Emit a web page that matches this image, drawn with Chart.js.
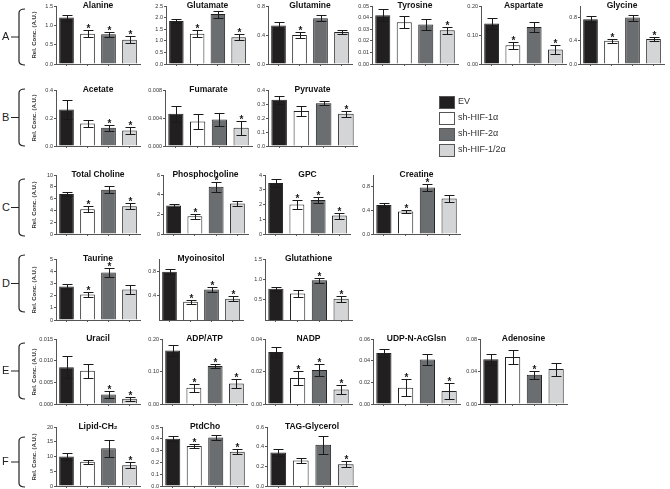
<!DOCTYPE html>
<html>
<head>
<meta charset="utf-8">
<script src="https://cdn.jsdelivr.net/npm/chart.js@4.4.1/dist/chart.umd.min.js"></script>
<style>
body { margin: 0; background: #fff; width: 670px; height: 489px; overflow: hidden; position: relative; font-family: Arial, "Liberation Sans", sans-serif; }
canvas { position: absolute; }
.ylab { position: absolute; width: 80px; height: 8px; line-height: 8px; text-align: center; font: bold 6px Arial, "Liberation Sans", sans-serif; color: #333; transform: rotate(-90deg); white-space: nowrap; }
.row { position: absolute; font: 11px Arial, "Liberation Sans", sans-serif; color: #222; }
.leg { position: absolute; left: 439px; font: 9px Arial, "Liberation Sans", sans-serif; color: #333; }
.leg span { position: absolute; left: 0; top: 0; width: 14px; height: 11px; border: 1px solid #555; }
.leg b { position: absolute; left: 19px; top: 0; font-weight: normal; white-space: nowrap; }
svg { position: absolute; left: 0; top: 0; }
</style>
</head>
<body>
<svg id="brackets" width="670" height="489"></svg>
<script>
// groups and metabolites
const groups = ['EV', 'sh-HIF-1α', 'sh-HIF-2α', 'sh-HIF-1/2α'];
const groupColors = ['#221f20', '#ffffff', '#6b6e70', '#d3d5d7'];
const rowLetters = ['A', 'B', 'C', 'D', 'E', 'F'];

const metabolites = ['Alanine', 'Glutamate', 'Glutamine', 'Tyrosine', 'Aspartate', 'Glycine',
    'Acetate', 'Fumarate', 'Pyruvate',
    'Total Choline', 'Phosphocholine', 'GPC', 'Creatine',
    'Taurine', 'Myoinositol', 'Glutathione',
    'Uracil', 'ADP/ATP', 'NADP', 'UDP-N-AcGlsn', 'Adenosine',
    'Lipid-CH₂', 'PtdCho', 'TAG-Glycerol'];

// mean values (EV, HIF-1a, HIF-2a, HIF-1/2a)
const means = [
    [1.20, 0.78, 0.77, 0.63],
    [1.85, 1.30, 2.15, 1.15],
    [0.53, 0.40, 0.63, 0.44],
    [0.042, 0.036, 0.034, 0.029],
    [0.140, 0.065, 0.128, 0.050],
    [0.77, 0.40, 0.80, 0.43],
    [0.26, 0.16, 0.13, 0.11],
    [0.0046, 0.0035, 0.0038, 0.0026],
    [0.33, 0.25, 0.305, 0.23],
    [6.8, 4.2, 7.5, 4.7],
    [2.9, 1.8, 4.8, 3.1],
    [3.45, 2.0, 2.3, 1.25],
    [0.49, 0.38, 0.79, 0.60],
    [2.75, 2.1, 3.9, 2.5],
    [0.79, 0.30, 0.50, 0.35],
    [0.77, 0.65, 0.98, 0.52],
    [0.0085, 0.0077, 0.0022, 0.0012],
    [0.165, 0.050, 0.117, 0.063],
    [0.032, 0.016, 0.021, 0.009],
    [0.047, 0.015, 0.041, 0.012],
    [0.055, 0.058, 0.036, 0.043],
    [10.0, 8.2, 12.8, 7.0],
    [0.40, 0.34, 0.41, 0.29],
    [0.34, 0.26, 0.42, 0.22]
];

// standard errors
const errors = [
    [0.08, 0.09, 0.06, 0.09],
    [0.08, 0.15, 0.15, 0.13],
    [0.05, 0.04, 0.04, 0.03],
    [0.005, 0.005, 0.005, 0.003],
    [0.018, 0.012, 0.018, 0.016],
    [0.05, 0.03, 0.05, 0.04],
    [0.07, 0.025, 0.02, 0.025],
    [0.0011, 0.0011, 0.0009, 0.001],
    [0.03, 0.035, 0.015, 0.02],
    [0.4, 0.5, 0.6, 0.5],
    [0.2, 0.25, 0.5, 0.3],
    [0.25, 0.3, 0.2, 0.2],
    [0.04, 0.03, 0.06, 0.06],
    [0.2, 0.2, 0.35, 0.35],
    [0.04, 0.03, 0.04, 0.04],
    [0.05, 0.09, 0.06, 0.07],
    [0.0025, 0.0016, 0.0009, 0.0005],
    [0.018, 0.012, 0.006, 0.013],
    [0.003, 0.0045, 0.0035, 0.003],
    [0.004, 0.008, 0.005, 0.007],
    [0.007, 0.009, 0.005, 0.008],
    [1.2, 0.7, 2.8, 1.0],
    [0.02, 0.015, 0.02, 0.02],
    [0.04, 0.025, 0.09, 0.03]
];

// significance markers
const starred = [
    [0, 1, 1, 1], [0, 1, 0, 1], [0, 1, 0, 0], [0, 0, 0, 1], [0, 1, 0, 1], [0, 1, 0, 1],
    [0, 0, 1, 1], [0, 0, 0, 1], [0, 0, 0, 1],
    [0, 1, 0, 1], [0, 1, 1, 0], [0, 1, 1, 1], [0, 1, 1, 0],
    [0, 1, 1, 0], [0, 1, 1, 1], [0, 0, 1, 1],
    [0, 0, 1, 1], [0, 1, 1, 1], [0, 1, 1, 1], [0, 1, 0, 1], [0, 0, 1, 0],
    [0, 0, 0, 1], [0, 1, 0, 1], [0, 0, 0, 1]
];

// y tick labels
const yTickLabels = [
    ['0.0', '0.5', '1.0', '1.5'],
    ['0.0', '0.5', '1.0', '1.5', '2.0', '2.5'],
    ['0.0', '0.4', '0.8'],
    ['0.00', '0.01', '0.02', '0.03', '0.04', '0.05'],
    ['0.00', '0.10', '0.20'],
    ['0.0', '0.4', '0.8'],
    ['0.0', '0.2', '0.4'],
    ['0.000', '0.004', '0.008'],
    ['0.0', '0.1', '0.2', '0.3', '0.4'],
    ['0', '2', '4', '6', '8', '10'],
    ['0', '2', '4', '6'],
    ['0', '1', '2', '3', '4'],
    ['0.0', '0.4', '0.8'],
    ['0', '1', '2', '3', '4', '5'],
    ['0.4', '0.8'],
    ['0.5', '1.0', '1.5'],
    ['0.000', '0.005', '0.010', '0.015'],
    ['0.00', '0.10', '0.20'],
    ['0.00', '0.02', '0.04'],
    ['0.00', '0.02', '0.04', '0.06'],
    ['0.00', '0.04', '0.08'],
    ['0', '5', '10', '15', '20'],
    ['0.0', '0.1', '0.2', '0.3', '0.4', '0.5'],
    ['0.0', '0.2', '0.4', '0.6']
];
const yMax = [1.5, 2.5, 0.8, 0.05, 0.2, 1.0, 0.4, 0.008, 0.4, 10, 6, 4, 1.0, 5, 1.0, 1.5,
    0.015, 0.2, 0.04, 0.06, 0.08, 20, 0.5, 0.6];

// layout: which row, plot top / zero line per row, plot left / right per panel
const rowOf = [0, 0, 0, 0, 0, 0, 1, 1, 1, 2, 2, 2, 2, 3, 3, 3, 4, 4, 4, 4, 4, 5, 5, 5];
const rowTop = [6, 90, 175, 259, 339, 427];
const rowZero = [64, 146, 234, 320, 404, 486];
const bracketSpan = [[9, 65], [89, 146], [179, 236], [255, 312], [343, 399], [437, 487]];
const panelX = [
    [56, 140], [166, 249], [268, 352], [372, 458], [481, 566], [580, 664],
    [56, 140], [165, 252], [268, 357],
    [56, 140], [163, 248], [265, 350], [373, 460],
    [56, 140], [159, 243], [265, 352],
    [56, 140], [162, 247], [265, 352], [373, 460], [480, 567],
    [56, 140], [162, 248], [267, 357]
];

const YW = 24, PAD_TOP = 12, XH = 5, PAD_R = 3;

const errorBars = {
    id: 'errorBars',
    afterDatasetsDraw(chart, args, opts) {
        const k = opts.k;
        const { ctx, chartArea, scales: { x, y } } = chart;
        ctx.save();
        ctx.strokeStyle = '#1a1a1a';
        ctx.fillStyle = '#1a1a1a';
        ctx.lineWidth = 1;
        ctx.font = 'bold 10px Arial';
        ctx.textAlign = 'center';
        ctx.textBaseline = 'alphabetic';
        means[k].forEach((m, i) => {
            const px = Math.round(x.getPixelForValue(i)) + 0.5;
            const top = Math.round(y.getPixelForValue(m + errors[k][i])) + 0.5;
            const bot = Math.round(y.getPixelForValue(m - errors[k][i])) + 0.5;
            ctx.beginPath();
            ctx.moveTo(px, top); ctx.lineTo(px, bot);
            ctx.moveTo(px - 5, top); ctx.lineTo(px + 5, top);
            ctx.moveTo(px - 5, bot); ctx.lineTo(px + 5, bot);
            ctx.stroke();
            if (starred[k][i]) ctx.fillText('*', px, top + 1);
        });
        // panel title
        ctx.font = 'bold 8.5px Arial';
        ctx.fillStyle = '#111';
        ctx.fillText(metabolites[k], (chartArea.left + chartArea.right) / 2, chartArea.top + 2);
        ctx.restore();
    }
};

metabolites.forEach((name, k) => {
    const r = rowOf[k];
    const [x0, x1] = panelX[k];
    const cv = document.createElement('canvas');
    const w = YW + (x1 - x0) + PAD_R;
    const h = PAD_TOP + (rowZero[r] - rowTop[r]) + XH;
    cv.width = w; cv.height = h;
    cv.style.left = (x0 - YW) + 'px';
    cv.style.top = (rowTop[r] - PAD_TOP) + 'px';
    document.body.appendChild(cv);

    new Chart(cv, {
        type: 'bar',
        data: {
            labels: groups,
            datasets: [{
                data: means[k],
                backgroundColor: groupColors,
                borderColor: '#222',
                borderWidth: 1,
                barPercentage: 0.7,
                categoryPercentage: 1
            }]
        },
        options: {
            responsive: false,
            animation: false,
            devicePixelRatio: 1,
            layout: { padding: { top: PAD_TOP, right: PAD_R, left: 0, bottom: 0 } },
            plugins: {
                legend: { display: false },
                tooltip: { enabled: false },
                errorBars: { k: k }
            },
            scales: {
                x: {
                    grid: { drawOnChartArea: false, drawTicks: true, tickLength: 2, offset: false, color: '#555' },
                    border: { display: true, color: '#555', width: 1 },
                    ticks: { display: false },
                    afterFit: s => { s.height = XH; }
                },
                y: {
                    min: 0,
                    max: yMax[k],
                    grid: { drawOnChartArea: false, drawTicks: true, tickLength: 2, color: '#555' },
                    border: { display: true, color: '#555', width: 1 },
                    ticks: {
                        font: { size: 5.5, family: 'Arial' },
                        color: '#333',
                        padding: 1,
                        callback: (v, i) => yTickLabels[k][i]
                    },
                    afterBuildTicks: s => { s.ticks = yTickLabels[k].map(t => ({ value: parseFloat(t) })); },
                    afterFit: s => { s.width = YW; }
                }
            }
        },
        plugins: [errorBars]
    });
});

// row letters, brackets and y titles
const svg = document.getElementById('brackets');
let paths = '';
rowLetters.forEach((L, r) => {
    const [t, b] = bracketSpan[r];
    const mid = (t + b) / 2;
    paths += `<path d="M25 ${t} Q19 ${t} 19 ${t + 4} L19 ${b - 4} Q19 ${b} 25 ${b} M11 ${mid} L19 ${mid}" fill="none" stroke="#222" stroke-width="1.2"/>`;
    const d = document.createElement('div');
    d.className = 'row';
    d.textContent = L;
    d.style.left = '2px';
    d.style.top = (mid - 7) + 'px';
    document.body.appendChild(d);

    const y = document.createElement('div');
    y.className = 'ylab';
    y.textContent = 'Rel. Conc. (A.U.)';
    y.style.left = (35 - 40) + 'px';
    y.style.top = ((rowTop[r] + rowZero[r]) / 2 - 4) + 'px';
    document.body.appendChild(y);
});
svg.innerHTML = paths;

// legend
groups.forEach((g, i) => {
    const d = document.createElement('div');
    d.className = 'leg';
    d.style.top = (96 + i * 16) + 'px';
    d.innerHTML = `<span style="background:${groupColors[i]}"></span><b>${g}</b>`;
    document.body.appendChild(d);
});
</script>
</body>
</html>
